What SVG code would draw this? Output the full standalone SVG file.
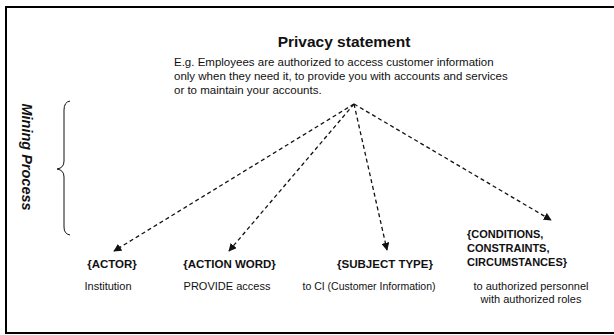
<svg xmlns="http://www.w3.org/2000/svg" width="614" height="335" viewBox="0 0 614 335">
<style>
text{font-family:"Liberation Sans",Arial,sans-serif;fill:#111}
.t{font-size:15.5px;font-weight:bold}
.p{font-size:11.5px}
.h{font-size:11.5px;font-weight:bold;text-anchor:middle}
.hl{font-size:11px;font-weight:bold}
.d{font-size:11px;text-anchor:middle}
.c{fill:none;stroke:#111;stroke-width:1.3;stroke-dasharray:4,3}
</style>
<defs>
<marker id="ah" viewBox="0 0 10 10" refX="9" refY="5" markerWidth="8" markerHeight="8" markerUnits="userSpaceOnUse" orient="auto">
<path d="M0,0 L10,5 L0,10 z" fill="#111"/>
</marker>
</defs>
<rect width="614" height="335" fill="#fff"/>
<path d="M615,7 H6 V333 H615" fill="none" stroke="#000" stroke-width="2"/>
<g id="statement">
<text class="t" x="344" y="47" text-anchor="middle">Privacy statement</text>
<text class="p" x="174" y="66">E.g. Employees are authorized to access customer information</text>
<text class="p" x="174" y="80">only when they need it, to provide you with accounts and services</text>
<text class="p" x="174" y="94">or to maintain your accounts.</text>
</g>
<g id="mining">
<text transform="translate(22,157) rotate(90)" text-anchor="middle" style="font-size:14.5px;font-weight:bold;font-style:italic">Mining Process</text>
<path d="M70,101 Q64,102 64,110 V161 Q64,168 57,169 Q64,170 64,177 V227 Q64,234 70,235" fill="none" stroke="#111" stroke-width="1"/>
</g>
<g id="connectors">
<path class="c" d="M354,104 L114,251" marker-end="url(#ah)"/>
<path class="c" d="M354,104 L229,251" marker-end="url(#ah)"/>
<path class="c" d="M354,104 L387,250" marker-end="url(#ah)"/>
<path class="c" d="M354,104 L551,220" marker-end="url(#ah)"/>
</g>
<g id="actor">
<text class="h" x="112" y="268">{ACTOR}</text>
<text class="d" x="108" y="290">Institution</text>
</g>
<g id="action">
<text class="h" x="229.5" y="268">{ACTION WORD}</text>
<text class="d" x="227" y="290">PROVIDE access</text>
</g>
<g id="subject">
<text class="h" x="385" y="268">{SUBJECT TYPE}</text>
<text class="d" x="369" y="290" style="font-size:10.5px">to CI (Customer Information)</text>
</g>
<g id="conditions">
<text class="hl" x="467" y="238">{CONDITIONS,</text>
<text class="hl" x="467" y="252">CONSTRAINTS,</text>
<text class="hl" x="467" y="266">CIRCUMSTANCES}</text>
<text class="d" x="531" y="290">to authorized personnel</text>
<text class="d" x="531" y="303">with authorized roles</text>
</g>
</svg>
